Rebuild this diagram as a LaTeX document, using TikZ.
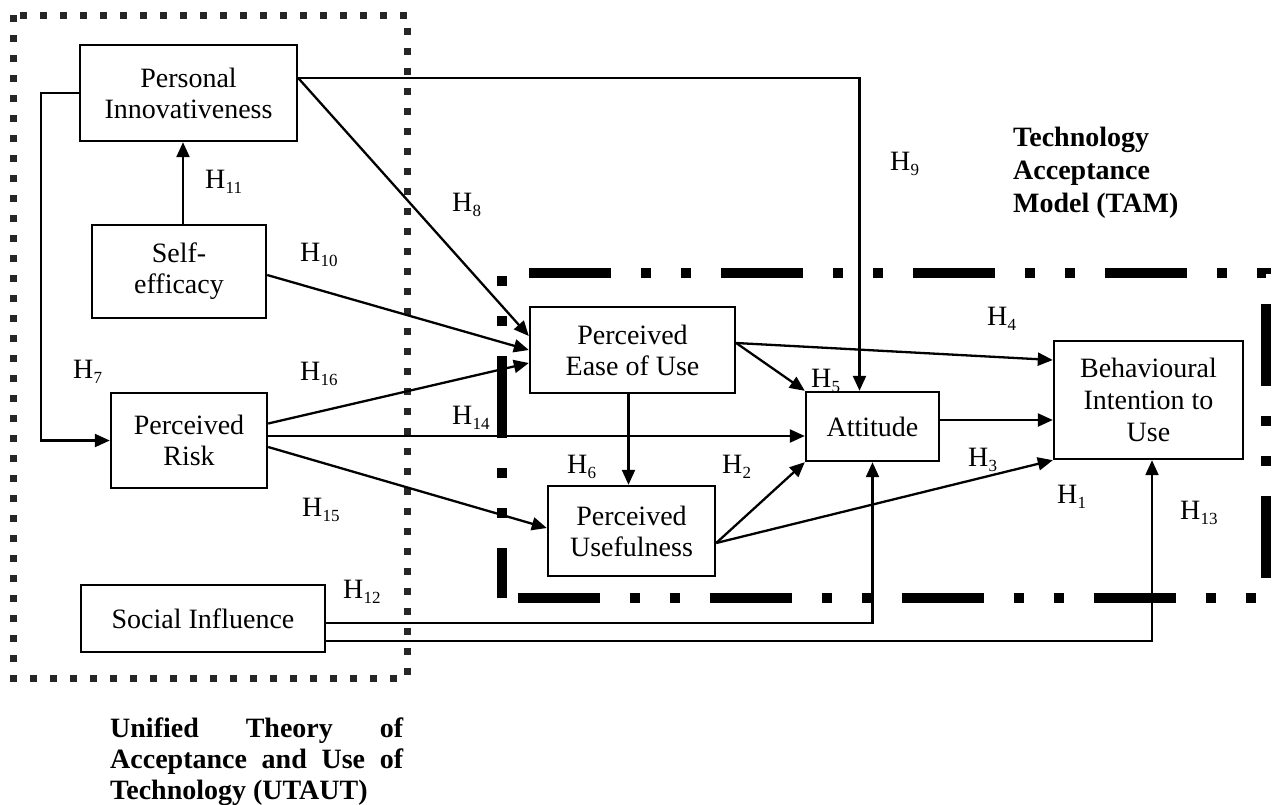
\documentclass[tikz,border=0pt]{standalone}
\usepackage{fontspec}
\setmainfont{Liberation Serif}
\usetikzlibrary{arrows.meta}
\newcommand{\hyp}[1]{H\kern0.3pt\raisebox{-5pt}{\fontsize{17}{17}\selectfont #1}}
\begin{document}
\begin{tikzpicture}[x=1pt,y=-1pt,
  every node/.style={font=\fontsize{28}{31}\selectfont},
  box/.style={draw, line width=2.4pt, align=center, inner sep=0pt, fill=white},
  lab/.style={anchor=west, inner sep=0pt},
  ttl/.style={anchor=base west, inner sep=0pt, font=\fontsize{28}{31}\selectfont\bfseries},
  arr/.style={line width=2.3pt, -{Triangle[length=15pt,width=13pt]}},
  utaut/.style={line width=7pt, dash pattern=on 7pt off 13pt, black!85},
  tam/.style={line width=9.5pt, dash pattern=on 82pt off 30pt on 10pt off 30pt on 10pt off 30pt, dash phase=32pt}]
\useasboundingbox (0,0) rectangle (1278,804);

% group borders
\draw[utaut] (13,15) rectangle (407,678);
\draw[tam] (502,598) -- (502,273) -- (1266,273) -- (1266,598) -- cycle;

% hypothesis labels
\node[lab] (h11) at (205,182) {\hyp{11}};
\node[lab] (h10) at (300,255) {\hyp{10}};
\node[lab] (h8)  at (452,205) {\hyp{8}};
\node[lab] (h9)  at (890,164) {\hyp{9}};
\node[lab] (h7)  at (73,372)  {\hyp{7}};
\node[lab] (h16) at (300,374) {\hyp{16}};
\node[lab] (h14) at (452,418) {\hyp{14}};
\node[lab] (h15) at (302,510) {\hyp{15}};
\node[lab] (h12) at (343,592) {\hyp{12}};
\node[lab] (h6)  at (567,467) {\hyp{6}};
\node[lab] (h2)  at (722,467) {\hyp{2}};
\node[lab] (h5)  at (811,381) {\hyp{5}};
\node[lab] (h4)  at (987,319) {\hyp{4}};
\node[lab] (h3)  at (968,460) {\hyp{3}};
\node[lab] (h1)  at (1057,497) {\hyp{1}};
\node[lab] (h13) at (1180,513) {\hyp{13}};

% boxes
\node[box, minimum width=217pt, minimum height=96pt] (pi) at (188.5,93) {Personal\\Innovativeness};
\node[box, minimum width=174pt, minimum height=93pt] (se) at (179,271.5) {Self-\\efficacy};
\node[box, minimum width=156pt, minimum height=95pt] (pr) at (189,440.5) {Perceived\\Risk};
\node[box, minimum width=244pt, minimum height=67pt] (si) at (203,618.5) {Social Influence};
\node[box, minimum width=205pt, minimum height=86pt] (peou) at (632.5,350) {Perceived\\Ease of Use};
\node[box, minimum width=167pt, minimum height=90pt] (pu) at (631.5,531) {Perceived\\Usefulness};
\node[box, minimum width=133pt, minimum height=69pt] (att) at (872.5,426.5) {Attitude};
\node[box, minimum width=189pt, minimum height=118pt, font=\fontsize{28}{32}\selectfont] (bi) at (1148.5,400) {Behavioural\\Intention to\\Use};

% titles
\node[ttl] (tam1) at (1013,146) {Technology};
\node[ttl] (tam2) at (1013,179) {Acceptance};
\node[ttl] (tam3) at (1013,212) {Model (TAM)};
\node[ttl] (ut1) at (110,737) {\hbox to 293pt{Unified\hfill Theory\hfill of}};
\node[ttl] (ut2) at (110,768) {\hbox to 293pt{Acceptance\hfill and\hfill Use\hfill of}};
\node[ttl] (ut3) at (110,799) {Technology (UTAUT)};

% connectors
\draw[arr] ([xshift=4pt]se.north) -- ([xshift=4pt]se.north |- pi.south);
\draw[arr] (pi.west) -- ++(-38,0) |- (pr.west);
\draw[arr] ([yshift=15pt]pi.east) -- ([yshift=14pt]peou.west);
\draw[arr] ([yshift=-3.5pt]se.east) -- (peou.west);
\draw[arr] ([yshift=17pt]pr.east) -- ([yshift=-13pt]peou.west);
\draw[arr] ([yshift=4.5pt]pr.east) -- ([yshift=4.5pt]pr.east -| att.west);
\draw[arr] ([yshift=-6.5pt]pr.east) -- ([yshift=3pt]pu.west);
\draw[arr] ([xshift=-4pt]peou.south) -- ([xshift=-4pt]peou.south |- pu.north);
\draw[arr] ([yshift=7pt]peou.east) -- (att.north west);
\draw[arr] ([yshift=7pt]peou.east) -- ([yshift=40pt]bi.west);
\draw[arr] ([yshift=-12pt]pu.east) -- (att.south west);
\draw[arr] ([yshift=-12pt]pu.east) -- (bi.south west);
\draw[arr] ([yshift=6.5pt]att.east) -- ([yshift=6.5pt]att.east -| bi.west);
\draw[arr] ([yshift=15pt]pi.east) -| ([xshift=-13pt]att.north);
\draw[arr] ([yshift=-4.5pt]si.east) -| (att.south);
\draw[arr] ([yshift=-22.5pt]si.east) -| ([xshift=3.5pt]bi.south);
\end{tikzpicture}
\end{document}
